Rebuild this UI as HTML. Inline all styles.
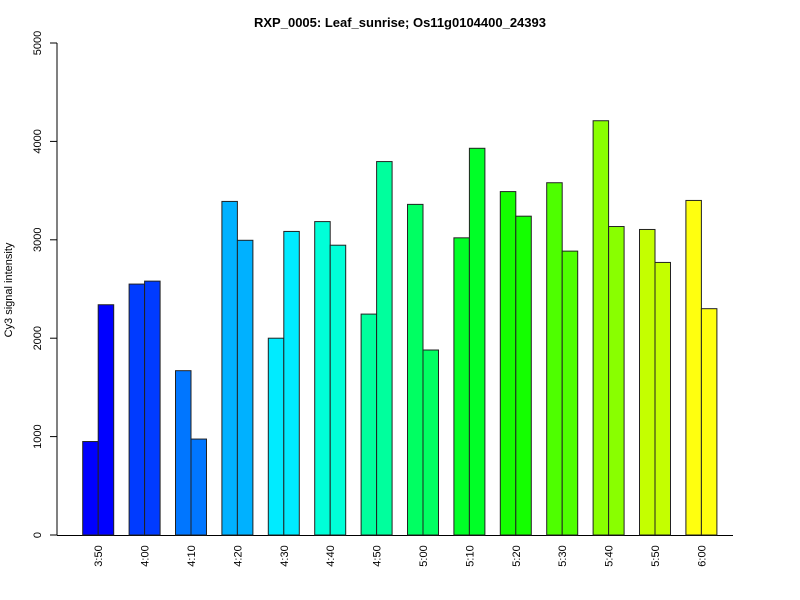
<!DOCTYPE html>
<html><head><meta charset="utf-8"><style>
body{margin:0;background:#fff}
svg{display:block;font-family:"Liberation Sans",Arial,sans-serif}
</style></head><body>
<svg id="c" width="800" height="600">
<text x="400" y="27" text-anchor="middle" font-weight="bold" font-size="13">RXP_0005: Leaf_sunrise; Os11g0104400_24393</text>
<text transform="translate(12,290) rotate(-90)" text-anchor="middle" font-size="11">Cy3 signal intensity</text>
<g id="ax"></g><g id="bars"></g>
</svg>
<script>
const categories=["3:50","4:00","4:10","4:20","4:30","4:40","4:50","5:00","5:10","5:20","5:30","5:40","5:50","6:00"];
const seriesA=[950,2550,1670,3390,2000,3185,2245,3360,3020,3490,3580,4210,3105,3400];
const seriesB=[2340,2580,975,2995,3085,2945,3795,1880,3930,3240,2885,3135,2770,2300];
const yTicks=[0,1000,2000,3000,4000,5000];
const NS="http://www.w3.org/2000/svg";
const y0=535,yTop=43,yMax=5000;
function y(v){return y0-(v/yMax)*(y0-yTop);}
function x(i){return 82.7+i*46.4;}
const bw=15.5;
function mk(t,a,p){const e=document.createElementNS(NS,t);for(const k in a)e.setAttribute(k,a[k]);p.appendChild(e);return e;}
const ax=document.getElementById('ax'),bars=document.getElementById('bars');
const yl=mk('line',{x1:57,x2:57,y1:y(0),y2:y(yMax),stroke:'#000'},ax);


yTicks.forEach(v=>{
 const t=mk('line',{x1:50,x2:57,y1:y(v),y2:y(v),stroke:'#000'},ax);
 
 
 const l=mk('text',{transform:`translate(41,${y(v)}) rotate(-90)`,'text-anchor':'middle','font-size':11},ax);
 l.textContent=v;
 
 
});
const xl=mk('line',{x1:57,x2:733,y1:y0+0.5,y2:y0+0.5,stroke:'#000'},ax);


categories.forEach((c,i)=>{
 const col=`hsl(${240-i*180/13},100%,${i==13?53:50}%)`;
 [seriesA[i],seriesB[i]].forEach((v,j)=>{
  const r=mk('rect',{x:x(i)+j*bw,y:y(v),width:bw,height:y0-y(v),fill:col,stroke:'#222','stroke-width':1},bars);
  
  
 });
 const l=mk('text',{transform:`translate(${x(i)+bw+4},556) rotate(-90)`,'text-anchor':'middle','font-size':11},ax);
 l.textContent=c;
 
 
});
</script>
</body></html>
